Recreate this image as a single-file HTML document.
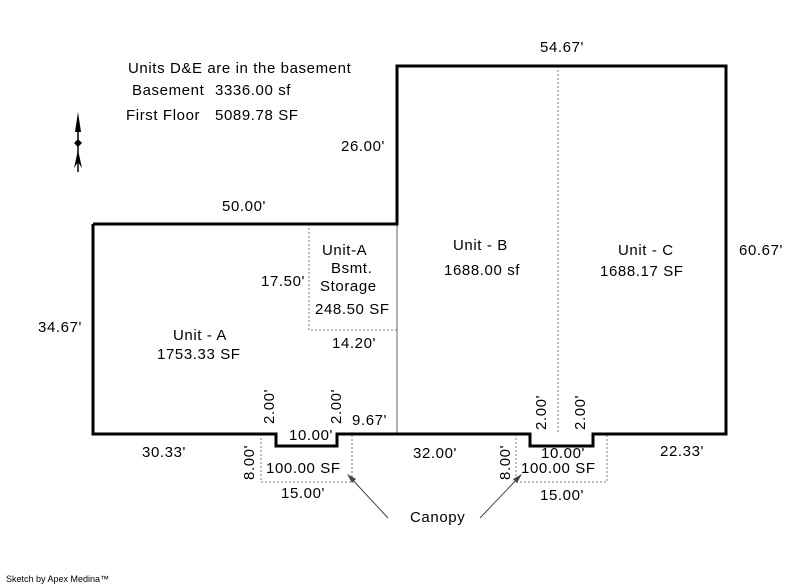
<!DOCTYPE html>
<html><head><meta charset="utf-8"><style>
html,body{margin:0;padding:0;background:#fff;}
svg{display:block;}
text{font-family:"Liberation Sans",Arial,sans-serif;font-size:15px;letter-spacing:0.6px;fill:#000;}
</style></head><body>
<svg width="800" height="587" viewBox="0 0 800 587" xmlns="http://www.w3.org/2000/svg">
<g stroke="#777" stroke-width="1" stroke-dasharray="2,2" fill="none">
<polyline points="309,224 309,330 397,330"/>
<line x1="558" y1="66" x2="558" y2="434"/>
<polyline points="261,434 261,482 352,482 352,434"/>
<polyline points="516,434 516,482 607,482 607,434"/>
</g>
<line x1="397" y1="224" x2="397" y2="434" stroke="#666" stroke-width="1"/>
<polyline fill="none" stroke="#000" stroke-width="3" points="93,224 397,224 397,66 726,66 726,434 593,434 593,446 530,446 530,434 337,434 337,446 276,446 276,434 93,434 93,224"/>
<g stroke="#444" stroke-width="1">
<line x1="388" y1="518" x2="349" y2="476"/>
<line x1="480" y1="518" x2="520" y2="476"/>
</g>
<polygon points="347,474 356,479 352,483" fill="#444"/>
<polygon points="522,474 517,483 513,479" fill="#444"/>
<g fill="#000">
<polygon points="78,112 75,132 81,132"/>
<line x1="78" y1="130" x2="78" y2="172" stroke="#000" stroke-width="1.5"/>
<polygon points="74,143 78,139 82,143 78,147"/>
<polygon points="78,150 74,168 78,162 82,168"/>
</g>
<text x="128" y="73">Units D&amp;E are in the basement</text>
<text x="132" y="95">Basement</text><text x="215" y="95">3336.00 sf</text>
<text x="126" y="120">First Floor</text><text x="215" y="120">5089.78 SF</text>
<text x="540" y="52">54.67'</text>
<text x="341" y="151">26.00'</text>
<text x="222" y="211">50.00'</text>
<text x="739" y="255">60.67'</text>
<text x="38" y="332">34.67'</text>
<text x="261" y="286">17.50'</text>
<text x="322" y="255">Unit-A</text>
<text x="331" y="273">Bsmt.</text>
<text x="320" y="291">Storage</text>
<text x="315" y="314">248.50 SF</text>
<text x="332" y="348">14.20'</text>
<text x="173" y="340">Unit - A</text>
<text x="157" y="359">1753.33 SF</text>
<text x="453" y="250">Unit - B</text>
<text x="444" y="275">1688.00 sf</text>
<text x="618" y="255">Unit - C</text>
<text x="600" y="276">1688.17 SF</text>
<text x="352" y="425">9.67'</text>
<text x="289" y="440">10.00'</text>
<text x="142" y="457">30.33'</text>
<text x="413" y="458">32.00'</text>
<text x="660" y="456">22.33'</text>
<text x="541" y="458">10.00'</text>
<text x="266" y="473">100.00 SF</text>
<text x="521" y="473">100.00 SF</text>
<text x="281" y="498">15.00'</text>
<text x="540" y="500">15.00'</text>
<text x="410" y="522">Canopy</text>
<text transform="translate(274,424) rotate(-90)">2.00'</text>
<text transform="translate(341,424) rotate(-90)">2.00'</text>
<text transform="translate(546,430) rotate(-90)">2.00'</text>
<text transform="translate(585,430) rotate(-90)">2.00'</text>
<text transform="translate(254,480) rotate(-90)">8.00'</text>
<text transform="translate(510,480) rotate(-90)">8.00'</text>
<text x="6" y="582" style="font-size:9px;letter-spacing:0">Sketch by Apex Medina™</text>
</svg>
</body></html>
